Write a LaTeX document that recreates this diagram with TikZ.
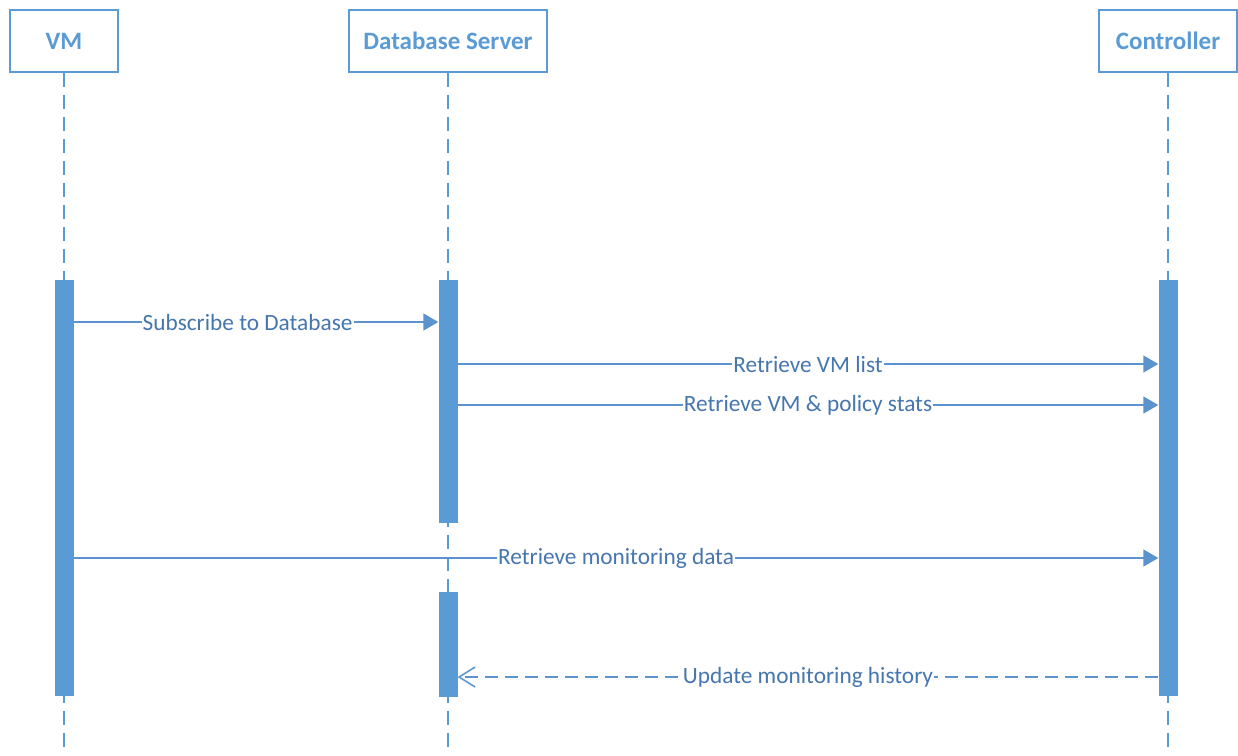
\documentclass[tikz,border=0pt]{standalone}
\usepackage{fontspec}
\setmainfont{Carlito}
\usetikzlibrary{arrows.meta}
\definecolor{hdr}{HTML}{5B9BD5}
\definecolor{barc}{HTML}{5B9BD5}
\definecolor{lblc}{HTML}{4676AE}
\definecolor{lnc}{HTML}{5B93CE}
\begin{document}
\begin{tikzpicture}[x=1pt,y=-1pt,
  hdrbox/.style={draw=hdr, line width=1.5pt, fill=white, text=hdr, font=\fontsize{25}{30}\selectfont\bfseries, minimum height=62pt, inner sep=0pt},
  actbar/.style={fill=barc, draw=none, minimum width=19pt, inner sep=0pt, anchor=north},
  lifeline/.style={draw=hdr, line width=1.5pt, dash pattern=on 14pt off 8pt},
  msg/.style={draw=lnc, line width=1.5pt, -{Triangle[length=15pt,width=17pt]}},
  ret/.style={draw=lnc, line width=1.5pt, dash pattern=on 13pt off 7pt, -{Straight Barb[length=16pt,width=20pt,line width=1.5pt]}},
  lbl/.style={fill=white, text=lblc, font=\fontsize{23.3}{28}\selectfont, inner xsep=1pt, inner ysep=1pt}
]
\useasboundingbox (0,0) rectangle (1238,755);
% headers
\node[hdrbox, minimum width=108pt] (vm) at (64,41) {VM};
\node[hdrbox, minimum width=198pt] (db) at (448,41) {Database Server};
\node[hdrbox, minimum width=138pt] (ct) at (1168,41) {Controller};
% lifeline ends
\coordinate (vmEnd) at (64,747);
\coordinate (dbEnd) at (448,747);
\coordinate (ctEnd) at (1168,747);
\draw[lifeline] (vm.south) -- (vmEnd);
\draw[lifeline] (db.south) -- (dbEnd);
\draw[lifeline] (ct.south) -- (ctEnd);
% activation bars
\node[actbar, minimum height=416pt] (vmA) at (64,280) {};
\node[actbar, minimum height=243pt] (dbA) at (448,280) {};
\node[actbar, minimum height=105pt] (dbB) at (448,592) {};
\node[actbar, minimum height=416pt] (ctA) at (1168,280) {};
% message levels
\coordinate (y1) at (0,322);
\coordinate (y2) at (0,364);
\coordinate (y3) at (0,405);
\coordinate (y4) at (0,558);
\coordinate (y5) at (0,677);
\draw[msg] (vmA.east |- y1) -- (dbA.west |- y1) node[lbl, pos=0.477] (m1) {Subscribe to Database};
\draw[msg] (dbA.east |- y2) -- (ctA.west |- y2) node[lbl, midway] (m2) {Retrieve VM list};
\draw[msg] (dbA.east |- y3) -- (ctA.west |- y3) node[lbl, midway] (m3) {Retrieve VM \& policy stats};
\draw[msg] (vmA.east |- y4) -- (ctA.west |- y4) node[lbl, midway] (m4) {Retrieve monitoring data};
\draw[ret] (ctA.west |- y5) -- (dbB.east |- y5) node[lbl, midway] (m5) {Update monitoring history};
\end{tikzpicture}
\end{document}
